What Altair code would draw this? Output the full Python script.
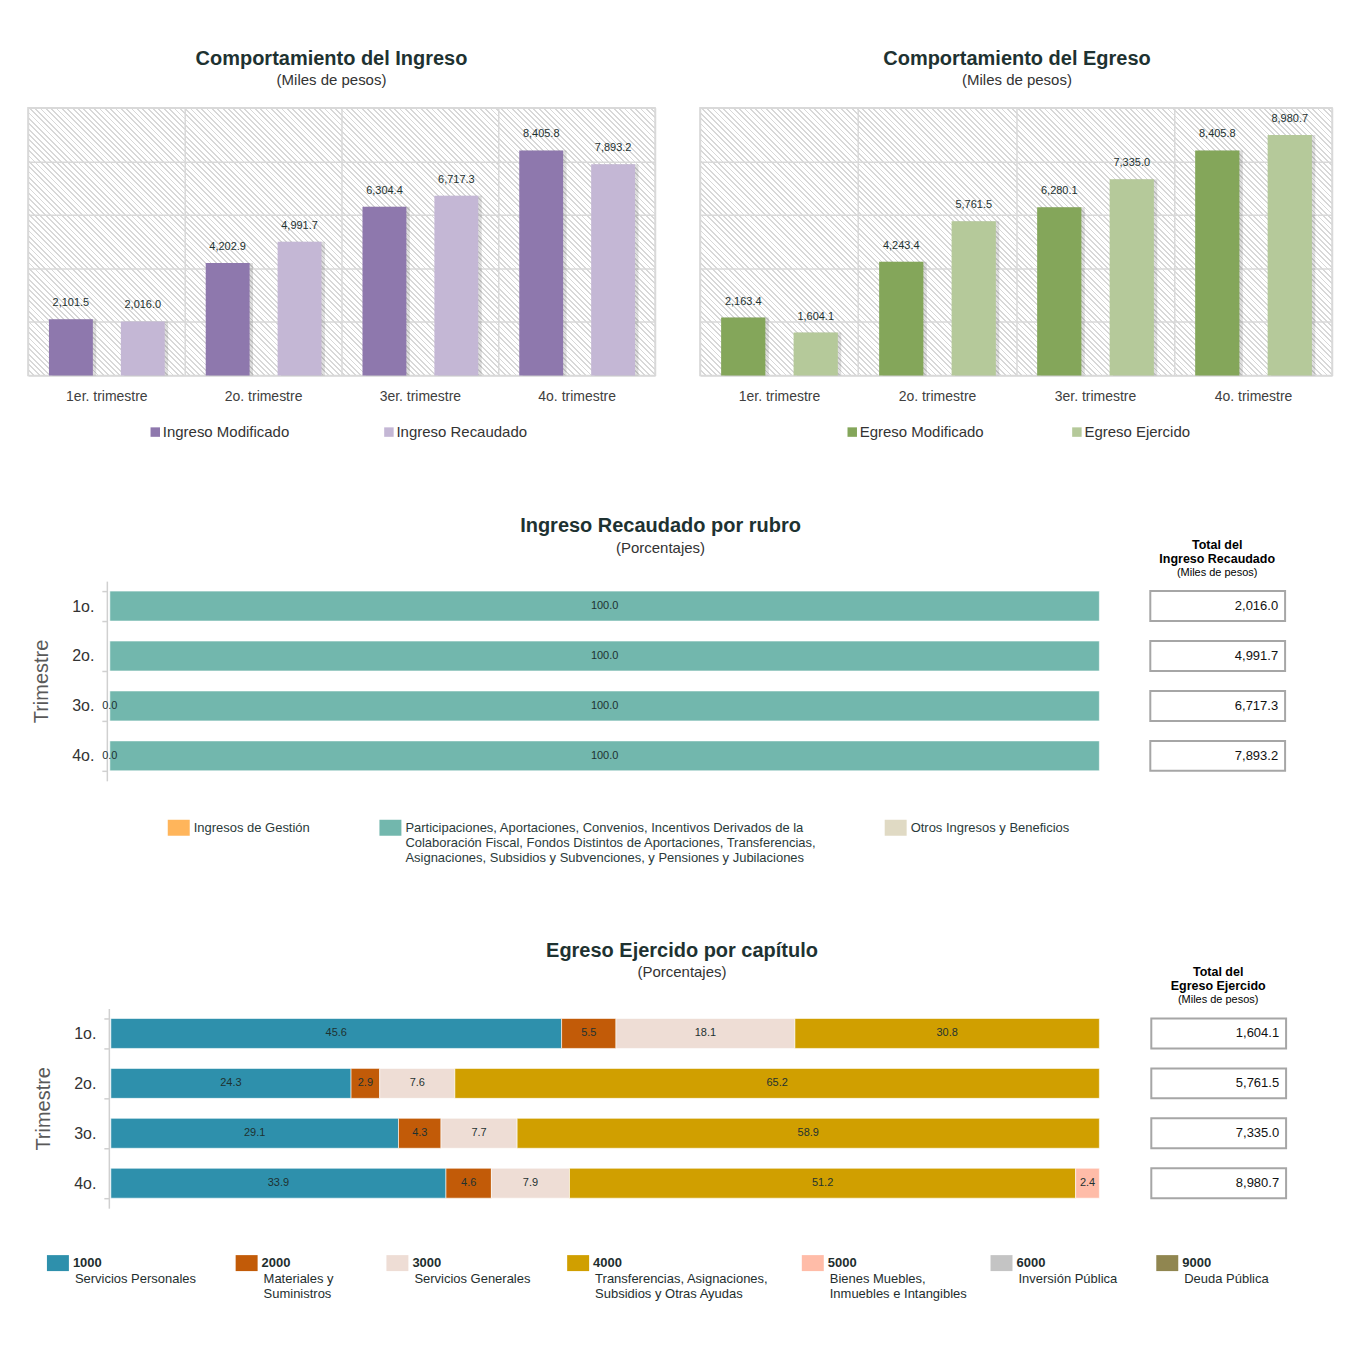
import math
import altair as alt
import pandas as pd

FONT = "Liberation Sans"
TXT = "#1e3231"

# ---------------- data ----------------
quarters_top = ["1er. trimestre", "2o. trimestre", "3er. trimestre", "4o. trimestre"]
ingreso_series = ["Ingreso Modificado", "Ingreso Recaudado"]
ingreso_modificado = [2101.5, 4202.9, 6304.4, 8405.8]
ingreso_recaudado = [2016.0, 4991.7, 6717.3, 7893.2]
ingreso_colors = ["#8e78ad", "#c4b7d5"]

egreso_series = ["Egreso Modificado", "Egreso Ejercido"]
egreso_modificado = [2163.4, 4243.4, 6280.1, 8405.8]
egreso_ejercido = [1604.1, 5761.5, 7335.0, 8980.7]
egreso_colors = ["#84a65a", "#b5c99a"]

trimestres = ["1o.", "2o.", "3o.", "4o."]

rubros = [
    "Ingresos de Gestión",
    "Participaciones, Aportaciones, Convenios, Incentivos Derivados de la\n"
    "Colaboración Fiscal, Fondos Distintos de Aportaciones, Transferencias,\n"
    "Asignaciones, Subsidios y Subvenciones, y Pensiones y Jubilaciones",
    "Otros Ingresos y Beneficios",
]
rubro_colors = ["#ffb55b", "#72b7ad", "#e0dac4"]
ingresos_gestion = [None, None, 0.0, 0.0]
participaciones = [100.0, 100.0, 100.0, 100.0]
otros_ingresos = [None, None, None, None]
total_ingreso_recaudado = [2016.0, 4991.7, 6717.3, 7893.2]

capitulos = ["1000", "2000", "3000", "4000", "5000", "6000", "9000"]
capitulo_names = [
    "Servicios Personales",
    "Materiales y\nSuministros",
    "Servicios Generales",
    "Transferencias, Asignaciones,\nSubsidios y Otras Ayudas",
    "Bienes Muebles,\nInmuebles e Intangibles",
    "Inversión Pública",
    "Deuda Pública",
]
capitulo_colors = ["#2e90ac", "#c25b08", "#eeddd5", "#d09f00", "#ffbca8", "#c4c4c4", "#908650"]
cap_1000 = [45.6, 24.3, 29.1, 33.9]
cap_2000 = [5.5, 2.9, 4.3, 4.6]
cap_3000 = [18.1, 7.6, 7.7, 7.9]
cap_4000 = [30.8, 65.2, 58.9, 51.2]
cap_5000 = [None, None, None, 2.4]
cap_6000 = [None, None, None, None]
cap_9000 = [None, None, None, None]
total_egreso_ejercido = [1604.1, 5761.5, 7335.0, 8980.7]

LEG_PAD = 38
# band alignment of the two bars inside each quarter (left bar / right bar)
BAR_ALIGN = [0.186, 0.823]
SHADOW_SHIFT = 0.03
PLOT_H = 268


# ---------------- helpers ----------------
def hatch_fill(w, h, period=3.8, frac=0.33, color="#d8d8d8"):
    """Diagonal hatch as a striped linear gradient (plot background decoration)."""
    dx, dy = 1.0 / w, 1.0 / h
    gx, gy = dy, -dx
    nrm = math.hypot(gx, gy)
    gx, gy = gx / nrm, gy / nrm
    corners = [(0, 0), (1, 0), (0, 1), (1, 1)]
    proj = [cx * gx + cy * gy for cx, cy in corners]
    pmin, pmax = min(proj), max(proj)
    sx, sy = corners[proj.index(pmin)]
    ex, ey = sx + (pmax - pmin) * gx, sy + (pmax - pmin) * gy
    n = int(round((w + h) / math.sqrt(2) / period))
    clear = "rgba(255,255,255,0)"
    stops = []
    for k in range(n):
        a, b, c = k / n, (k + frac) / n, (k + 1) / n
        stops += [{"offset": a, "color": color}, {"offset": b, "color": color},
                  {"offset": b, "color": clear}, {"offset": c, "color": clear}]
    return {"gradient": "linear", "x1": sx, "y1": sy, "x2": ex, "y2": ey, "stops": stops}


def top_chart(title, names, v1, v2, colors, width, title_dx, legend_x, col_pad):
    df = pd.DataFrame({
        "quarter": quarters_top * 2,
        "series": [names[0]] * 4 + [names[1]] * 4,
        "value": v1 + v2,
    })
    y = alt.Y("value:Q", scale=alt.Scale(domain=[0, 10000]),
              axis=alt.Axis(title=None, labels=False, ticks=False, domain=False,
                            grid=True, values=[0, 2000, 4000, 6000, 8000, 10000],
                            gridColor="#d9d9d9", gridWidth=1.5))
    color = alt.Color("series:N", scale=alt.Scale(domain=names, range=colors),
                      legend=alt.Legend(title=None, orient="none",
                                        legendX=legend_x - LEG_PAD,
                                        legendY=317 - LEG_PAD, padding=LEG_PAD,
                                        direction="horizontal",
                                        symbolType="square", symbolSize=90,
                                        symbolStrokeWidth=0, labelFontSize=15,
                                        labelColor="#333333", columnPadding=col_pad,
                                        labelOffset=0))
    hatch = alt.Chart(pd.DataFrame({"h": [0]})).mark_rect(
        fill=hatch_fill(width, PLOT_H)
    ).encode(x=alt.value(0), x2=alt.value(width), y=alt.value(0), y2=alt.value(PLOT_H))
    host = alt.Chart(df).mark_point(opacity=0, size=1).encode(
        x=alt.X("quarter:N", sort=quarters_top,
                scale=alt.Scale(paddingInner=0, paddingOuter=0),
                axis=alt.Axis(title=None, labelAngle=0, ticks=False, domain=False,
                              grid=True, tickBand="extent", gridColor="#d9d9d9",
                              gridWidth=1.5, labelFontSize=14, labelColor="#404040",
                              labelPadding=14)),
        y=y,
    )
    layers = [hatch, host]
    for k, name in enumerate(names):
        sub = alt.Chart(df).transform_filter(alt.datum.series == name)
        xs = alt.X("quarter:N", sort=quarters_top, axis=None,
                   scale=alt.Scale(paddingInner=0.72, paddingOuter=0.36,
                                   align=BAR_ALIGN[k] + SHADOW_SHIFT))
        shadow = sub.mark_bar(color="#000000", opacity=0.13).encode(x=xs, y=y)
        layers.append(shadow)
        xb = alt.X("quarter:N", sort=quarters_top, axis=None,
                   scale=alt.Scale(paddingInner=0.72, paddingOuter=0.36,
                                   align=BAR_ALIGN[k]))
        bars = sub.mark_bar().encode(x=xb, y=y, color=color)
        labels = sub.mark_text(baseline="alphabetic", dy=-13, fontSize=11,
                               color=TXT).encode(
            x=xb, y=y, text=alt.Text("value:Q", format=",.1f"))
        layers.append(alt.layer(bars, labels))
    return alt.layer(*layers).resolve_scale(x="independent").properties(
        width=width, height=PLOT_H,
        title=alt.TitleParams(title, subtitle="(Miles de pesos)", fontSize=20,
                              subtitleFontSize=15, color=TXT, subtitleColor="#333333",
                              offset=20, subtitlePadding=4, dx=title_dx, anchor="middle"),
        view=alt.ViewBackground(fill="#ffffff", stroke="#d9d9d9", strokeWidth=1.5),
    )


ybands = alt.Scale(paddingInner=0.4, paddingOuter=0.2)


def y_axis(offset):
    return alt.Axis(title="Trimestre", titleFontSize=20, titleFontWeight="normal",
                    titleColor="#595959", titlePadding=20, labelFontSize=16,
                    labelColor="#333333", labelPadding=8, tickBand="extent", tickSize=5,
                    tickColor="#d0d0d0", tickWidth=1.5, domainColor="#d0d0d0",
                    domainWidth=1.5, offset=offset, grid=False)


def stacked(cats, colors, series, width, axis_offset, title, dx, title_offset, sub_pad):
    rows = []
    for i, t in enumerate(trimestres):
        for j, vals in enumerate(series):
            if vals[i] is not None:
                rows.append({"trim": t, "cat": cats[j], "order": j, "value": vals[i]})
    df = pd.DataFrame(rows)
    base = alt.Chart(df).transform_stack(
        stack="value", groupby=["trim"], as_=["x0", "x1"],
        sort=[alt.SortField("order", order="ascending")]
    ).transform_calculate(xm="(datum.x0 + datum.x1) / 2")
    y = alt.Y("trim:N", sort=trimestres, scale=ybands, axis=y_axis(axis_offset))
    bars = base.mark_bar(stroke="#ffffff", strokeWidth=0.6).encode(
        y=y,
        x=alt.X("x0:Q", scale=alt.Scale(domain=[0, 100]), axis=None),
        x2="x1:Q",
        color=alt.Color("cat:N", scale=alt.Scale(domain=cats, range=colors), legend=None),
    )
    labels = base.mark_text(fontSize=11, color=TXT).encode(
        y=y, x="xm:Q", text=alt.Text("value:Q", format=".1f")
    )
    return alt.layer(bars, labels).properties(
        width=width, height=200,
        title=alt.TitleParams(title, subtitle="(Porcentajes)", fontSize=20,
                              subtitleFontSize=15, color=TXT, subtitleColor="#333333",
                              offset=title_offset, subtitlePadding=sub_pad, dx=dx,
                              anchor="middle"),
    )


def totals_chart(totals, lines):
    df = pd.DataFrame({"trim": trimestres, "total": totals})
    y = alt.Y("trim:N", sort=trimestres, scale=ybands, axis=None)
    box = alt.Chart(df).mark_rect(fill="#ffffff", stroke="#a6a6a6", strokeWidth=2).encode(
        y=y, x=alt.value(1), x2=alt.value(136)
    )
    txt = alt.Chart(df).mark_text(align="right", fontSize=13, color="#111111").encode(
        y=y, x=alt.value(129), text=alt.Text("total:Q", format=",.1f")
    )
    return alt.layer(box, txt).properties(
        width=136, height=200,
        title=alt.TitleParams(lines, subtitle="(Miles de pesos)", fontSize=12.5,
                              fontWeight="bold", color="#000000", subtitleFontSize=11,
                              subtitleColor="#000000", lineHeight=14, subtitlePadding=2,
                              offset=3, anchor="middle"),
    )


def spacer(w, h):
    return alt.Chart(pd.DataFrame({"s": [0]})).mark_point(opacity=0, size=1).encode(
        x=alt.value(w / 2), y=alt.value(h / 2)
    ).properties(width=w, height=h)


def mid_legend_item(i, w, h):
    df = pd.DataFrame({"cat": [rubros[i]]})
    sw = alt.Chart(df).mark_rect().encode(
        x=alt.value(0), x2=alt.value(22), y=alt.value(1), y2=alt.value(17),
        color=alt.Color("cat:N", scale=alt.Scale(domain=rubros, range=rubro_colors),
                        legend=None),
    )
    tx = alt.Chart(df).mark_text(align="left", baseline="top", fontSize=13,
                                 lineHeight=15, lineBreak="\n", color="#2a3a3a").encode(
        x=alt.value(26), y=alt.value(3), text="cat:N"
    )
    return alt.layer(sw, tx).properties(width=w, height=h)


def cap_legend_item(i, w, h):
    df = pd.DataFrame({"code": [capitulos[i]], "name": [capitulo_names[i]]})
    sw = alt.Chart(df).mark_rect().encode(
        x=alt.value(0), x2=alt.value(22), y=alt.value(9), y2=alt.value(25),
        color=alt.Color("code:N", scale=alt.Scale(domain=capitulos, range=capitulo_colors),
                        legend=None),
    )
    code = alt.Chart(df).mark_text(align="left", baseline="middle", fontSize=13,
                                   fontWeight="bold", color="#1e2e2e").encode(
        x=alt.value(26), y=alt.value(17), text="code:N"
    )
    name = alt.Chart(df).mark_text(align="left", baseline="top", fontSize=13,
                                   lineHeight=15, lineBreak="\n", color="#1e2e2e").encode(
        x=alt.value(28), y=alt.value(27), text="name:N"
    )
    return alt.layer(sw, code, name).properties(width=w, height=h)


# ---------------- rows ----------------
left = top_chart("Comportamiento del Ingreso", ingreso_series, ingreso_modificado,
                 ingreso_recaudado, ingreso_colors, 628, -10, 120, 92)
right = top_chart("Comportamiento del Egreso", egreso_series, egreso_modificado,
                  egreso_ejercido, egreso_colors, 633, 1, 145, 85)
R1 = alt.hconcat(left, right, spacing=45, bounds="flush").resolve_scale(color="independent")

mid = stacked(rubros, rubro_colors, [ingresos_gestion, participaciones, otros_ingresos],
              991, 3, "Ingreso Recaudado por rubro", 56, 17, 5)
R2 = alt.hconcat(spacer(32, 200), mid,
                 totals_chart(total_ingreso_recaudado, ["Total del", "Ingreso Recaudado"]),
                 spacing=50, bounds="flush").resolve_scale(color="independent")

mid_widths = [212, 506, 200]
R3 = alt.hconcat(spacer(140, 84),
                 *[mid_legend_item(i, w, 84) for i, w in enumerate(mid_widths)],
                 spacing=0, bounds="flush").resolve_scale(color="independent")

bot = stacked(capitulos, capitulo_colors,
              [cap_1000, cap_2000, cap_3000, cap_4000, cap_5000, cap_6000, cap_9000],
              990, 2, "Egreso Ejercido por capítulo", 77, 21, 4)
R4 = alt.hconcat(spacer(32, 200), bot,
                 totals_chart(total_egreso_ejercido, ["Total del", "Egreso Ejercido"]),
                 spacing=51, bounds="flush").resolve_scale(color="independent")

cap_widths = [189, 151, 181, 235, 189, 166, 150]
R5 = alt.hconcat(spacer(19, 60),
                 *[cap_legend_item(i, w, 60) for i, w in enumerate(cap_widths)],
                 spacing=0, bounds="flush").resolve_scale(color="independent")

chart = alt.vconcat(R1, R2, R3, R4, R5, spacing=36).resolve_scale(
    color="independent"
).properties(
    padding={"left": 27, "top": 47, "right": 15, "bottom": 10},
    background="#ffffff",
).configure(font=FONT).configure_view(stroke="transparent")

chart.save("out.html", embed_options={"renderer": "svg", "actions": False})
